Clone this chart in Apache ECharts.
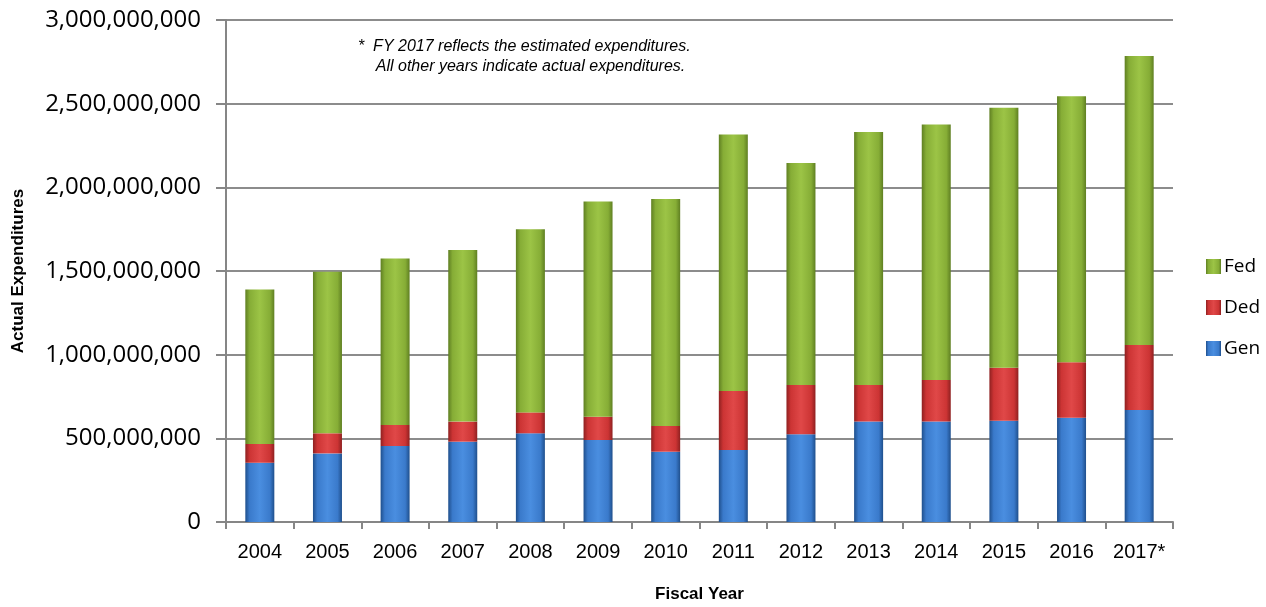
<!DOCTYPE html>
<html>
<head>
<meta charset="utf-8">
<script src="https://cdn.jsdelivr.net/npm/echarts@6/dist/echarts.min.js"></script>
<style>
  html, body { margin: 0; padding: 0; background: #fff; }
  #chart { width: 1266px; height: 607px; }
</style>
</head>
<body>
<div id="chart"></div>
<script>
const years = ['2004', '2005', '2006', '2007', '2008', '2009', '2010', '2011', '2012', '2013', '2014', '2015', '2016', '2017*']
const gen = [354000000, 410000000, 454000000, 480000000, 530000000, 490000000, 420000000, 430000000, 524000000, 600000000, 600000000, 605000000, 623000000, 669000000]
const ded = [112000000, 120000000, 126000000, 120000000, 125000000, 139000000, 154000000, 353000000, 295000000, 219000000, 249000000, 317000000, 331000000, 389000000]
const fed = [924000000, 965000000, 995000000, 1025000000, 1095000000, 1286000000, 1356000000, 1532000000, 1326000000, 1511000000, 1526000000, 1553000000, 1591000000, 1727000000]
const yTicks = [0, 500000000, 1000000000, 1500000000, 2000000000, 2500000000, 3000000000]

const barFill = (edge, mid, light) => new echarts.graphic.LinearGradient(0, 0, 1, 0, [
  { offset: 0, color: edge },
  { offset: 0.15, color: mid },
  { offset: 0.5, color: light },
  { offset: 0.85, color: mid },
  { offset: 1, color: edge },
])

const chart = echarts.init(document.getElementById('chart'))

const option = {
  backgroundColor: '#fff',
  animation: false,
  grid: { left: 226, right: 93, top: 20, bottom: 85, containLabel: false, outerBoundsMode: 'none' },
  legend: {
    orient: 'vertical',
    left: 1201,
    top: 252,
    itemGap: 22,
    itemWidth: 15,
    itemHeight: 15,
    icon: 'rect',
    data: ['Fed', 'Ded', 'Gen'],
    textStyle: { fontFamily: 'Open Sans', fontSize: 19, color: '#000', padding: [0, 0, 0, -2] },
  },
  graphic: [
    {
      type: 'text',
      left: 358,
      top: 37,
      style: {
        text: '*  FY 2017 reflects the estimated expenditures.\n    All other years indicate actual expenditures.',
        font: 'italic 16px "Liberation Sans", Arial, sans-serif',
        fill: '#000',
        lineHeight: 20,
      },
    },
  ],
  xAxis: {
    type: 'category',
    data: years,
    name: 'Fiscal Year',
    nameLocation: 'middle',
    nameGap: 64,
    nameTextStyle: { fontFamily: 'Liberation Sans', fontWeight: 'bold', fontSize: 17, color: '#000' },
    axisLine: { lineStyle: { color: '#868686', width: 2 } },
    axisTick: { show: true, length: 7, lineStyle: { color: '#868686', width: 2 } },
    axisLabel: { fontFamily: 'Liberation Sans', fontSize: 20, color: '#000', margin: 20, interval: 0 },
  },
  yAxis: {
    type: 'value',
    min: 0,
    max: 3000000000,
    interval: 500000000,
    name: 'Actual Expenditures',
    nameLocation: 'middle',
    nameGap: 199,
    nameTextStyle: { fontFamily: 'Liberation Sans', fontWeight: 'bold', fontSize: 17, color: '#000' },
    axisLine: { show: true, lineStyle: { color: '#868686', width: 2 } },
    axisTick: { show: true, length: 10, lineStyle: { color: '#868686', width: 2 } },
    splitLine: { lineStyle: { color: '#8c8c8c', width: 2 } },
    axisLabel: {
      fontFamily: 'Open Sans',
      fontSize: 24,
      color: '#000',
      margin: 25,
      customValues: yTicks,
      formatter: (v) => v.toLocaleString('en-US'),
    },
  },
  series: [
    {
      name: 'Gen',
      type: 'bar',
      stack: 'total',
      barWidth: 29,
      data: gen,
      itemStyle: { color: barFill('#1f4f8c', '#3a7acb', '#4a8ee0') },
    },
    {
      name: 'Ded',
      type: 'bar',
      stack: 'total',
      barWidth: 29,
      data: ded,
      itemStyle: { color: barFill('#8e2020', '#cc3434', '#e04848') },
    },
    {
      name: 'Fed',
      type: 'bar',
      stack: 'total',
      barWidth: 29,
      data: fed,
      itemStyle: { color: barFill('#5f7f22', '#86ad36', '#9cc446') },
    },
  ],
}

chart.setOption(option)
</script>
</body>
</html>
